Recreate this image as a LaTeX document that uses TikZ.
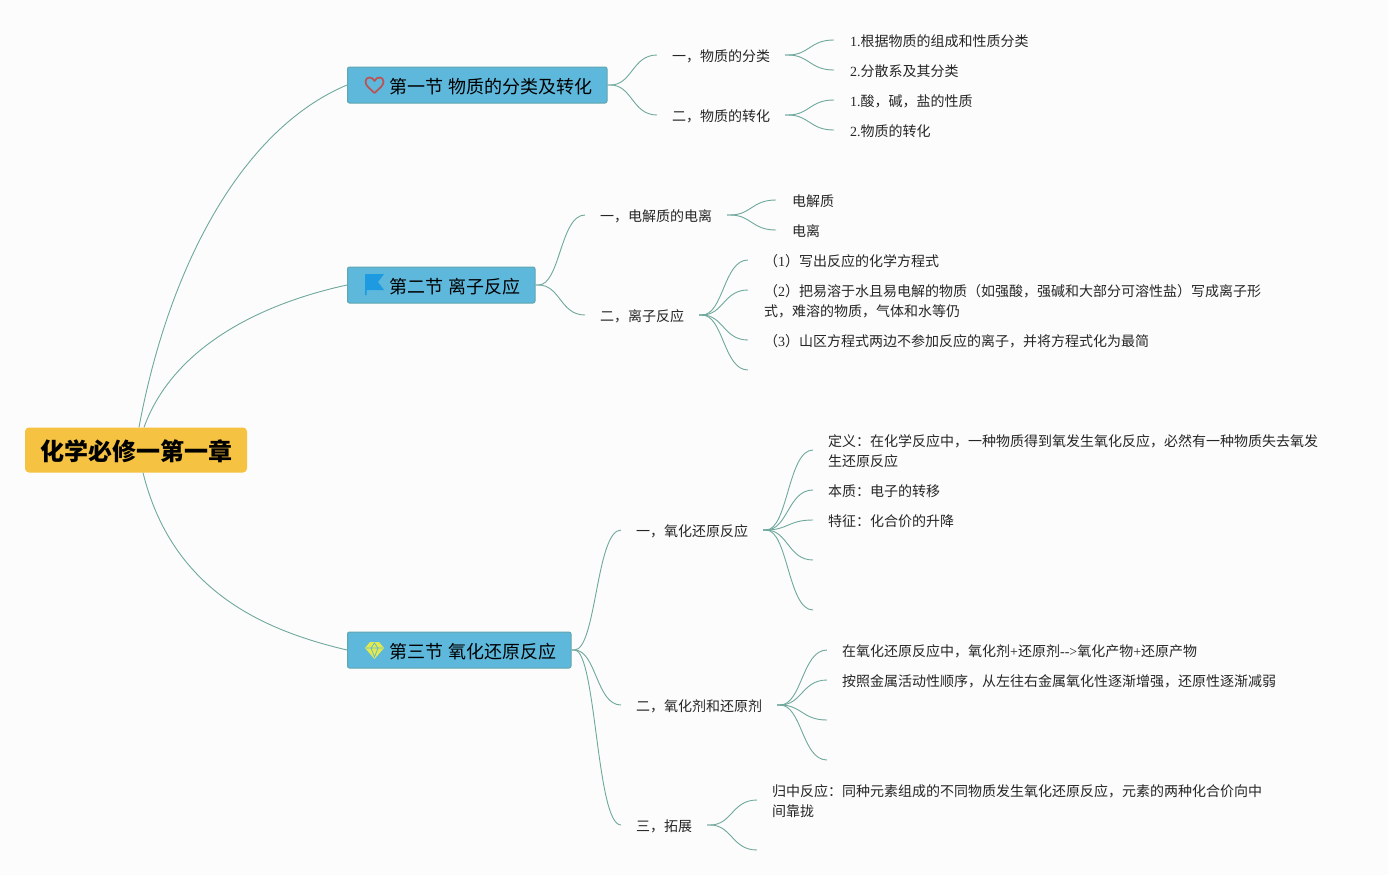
\documentclass[tikz,border=0pt]{standalone}
\usepackage{fontspec}
\setmainfont{Noto Sans CJK SC}
\newfontfamily\lat{Liberation Serif}
\usetikzlibrary{calc}
\definecolor{bgc}{HTML}{FCFCFC}
\definecolor{linec}{HTML}{6FA89C}
\definecolor{rootc}{HTML}{F5C242}
\definecolor{secc}{HTML}{5DB8DC}
\definecolor{secb}{HTML}{62A6AE}
\definecolor{txt}{HTML}{262626}
\definecolor{heartc}{HTML}{BC5353}
\definecolor{flagc}{HTML}{1E9BE0}
\definecolor{gemc}{HTML}{E4EA4C}
\newcommand{\ltn}[1]{{\lat #1}}
\tikzset{
  rootbox/.style={fill=rootc,rounded corners=4pt,minimum width=222pt,minimum height=45pt,inner sep=0pt,text height=21.6pt,text depth=0pt,font=\fontsize{24}{28}\selectfont\bfseries,text=black},
  secbox/.style={fill=secc,draw=secb,line width=1pt,rounded corners=2pt,minimum height=36pt,anchor=west,inner sep=0pt,text height=16.7pt,text depth=0pt,font=\fontsize{18}{22}\selectfont,text=black,align=left},
  lab/.style={anchor=base west,inner sep=0pt,align=left,yshift=-5.8pt,font=\fontsize{14}{20}\selectfont,text=txt},
  conn/.style={draw=linec,line width=0.9pt},
}
\newcommand{\fan}[2]{\draw[conn] let \p1=(#1),\p2=(#2) in (\p1) -- ++({(\x2-\x1)*0.06},0) .. controls ({\x1+(\x2-\x1)*0.5},\y1) and ({\x1+(\x2-\x1)*0.5},\y2) .. (\p2);}
\newcommand{\secttext}[2]{\hspace*{42pt}第#1节\hspace{5.5pt}#2}
\begin{document}
\begin{tikzpicture}[x=1pt,y=-1pt]
\useasboundingbox[fill=bgc] (0,0) rectangle (1388,875);
% root and sections
\node[rootbox] (root) at (136,450) {化学必修一第一章};
\node[secbox,minimum width=259.5pt,text width=259.5pt] (s1) at (347,85) {\secttext{一}{物质的分类及转化}};
\node[secbox,minimum width=187.5pt,text width=187.5pt] (s2) at (347,285) {\secttext{二}{离子反应}};
\node[secbox,minimum width=223.5pt,text width=223.5pt] (s3) at (347,650) {\secttext{三}{氧化还原反应}};
% root connectors
\draw[conn] ($(root.north)+(3,0)$) .. controls (168,270) and (240,130) .. (s1.west);
\draw[conn] ($(root.north)+(8,0)$) .. controls (172,350) and (255,305) .. (s2.west);
\draw[conn] ($(root.south)+(7,0)$) .. controls (172,590) and (262,630) .. (s3.west);
% icons
\draw[heartc,line width=1.7pt,line join=round] (374.5,93) .. controls (370,88.5) and (365.5,86) .. (365.5,81.5) .. controls (365.5,76.5) and (372.5,76) .. (374.5,81) .. controls (376.5,76) and (383.5,76.5) .. (383.5,81.5) .. controls (383.5,86) and (379,88.5) .. (374.5,93) -- cycle;
\fill[flagc] (365,274) -- (384,274) -- (378,282) -- (384,290) -- (366.5,290) -- (366.5,295) -- (365,295) -- cycle;
\fill[gemc] (370,642) -- (379,642) -- (384,648) -- (374.5,659) -- (365,648) -- cycle;
\draw[secc,line width=0.7pt] (366,648) -- (383,648) (371,648) -- (374.5,657) -- (378,648) (371,648) -- (374.5,643) -- (378,648);
% level 2 labels
\node[lab] (a1) at (672,56) {一，物质的分类};
\node[lab] (a2) at (672,116) {二，物质的转化};
\node[lab] (b1) at (600,216) {一，电解质的电离};
\node[lab] (b2) at (600,316) {二，离子反应};
\node[lab] (c1) at (636,531) {一，氧化还原反应};
\node[lab] (c2) at (636,706) {二，氧化剂和还原剂};
\node[lab] (c3) at (636,826) {三，拓展};
% level 3 labels
\node[lab] (a11) at (850,41) {\ltn{1.}根据物质的组成和性质分类};
\node[lab] (a12) at (850,71) {\ltn{2.}分散系及其分类};
\node[lab] (a21) at (850,101) {\ltn{1.}酸，碱，盐的性质};
\node[lab] (a22) at (850,131) {\ltn{2.}物质的转化};
\node[lab] (b11) at (792,201) {电解质};
\node[lab] (b12) at (792,231) {电离};
\node[lab] (b21) at (764,261) {（\ltn{1}）写出反应的化学方程式};
\node[lab] (b22) at (764,311) {（\ltn{2}）把易溶于水且易电解的物质（如强酸，强碱和大部分可溶性盐）写成离子形\\式，难溶的物质，气体和水等仍};
\node[lab] (b23) at (764,341) {（\ltn{3}）山区方程式两边不参加反应的离子，并将方程式化为最简};
\node[lab] (c11) at (828,461) {定义：在化学反应中，一种物质得到氧发生氧化反应，必然有一种物质失去氧发\\生还原反应};
\node[lab] (c12) at (828,491) {本质：电子的转移};
\node[lab] (c13) at (828,521) {特征：化合价的升降};
\node[lab] (c21) at (842,651) {在氧化还原反应中，氧化剂\ltn{+}还原剂\ltn{-{}->}氧化产物\ltn{+}还原产物};
\node[lab] (c22) at (842,681) {按照金属活动性顺序，从左往右金属氧化性逐渐增强，还原性逐渐减弱};
\node[lab] (c31) at (772,811) {归中反应：同种元素组成的不同物质发生氧化还原反应，元素的两种化合价向中\\间靠拢};
% connector points
\coordinate (a1i) at (657,55); \coordinate (a2i) at (657,115);
\coordinate (a1o) at (785,55); \coordinate (a2o) at (785,115);
\coordinate (a11i) at (834,40); \coordinate (a12i) at (834,70);
\coordinate (a21i) at (834,100); \coordinate (a22i) at (834,130);
\coordinate (b1i) at (585,215); \coordinate (b2i) at (585,315);
\coordinate (b1o) at (727,215); \coordinate (b2o) at (699,315);
\coordinate (b11i) at (776,200); \coordinate (b12i) at (776,230);
\coordinate (b21i) at (748,260); \coordinate (b22i) at (748,290);
\coordinate (b23i) at (748,340); \coordinate (b24i) at (748,370);
\coordinate (c1i) at (621,530); \coordinate (c2i) at (621,705); \coordinate (c3i) at (621,825);
\coordinate (c1o) at (763,530); \coordinate (c2o) at (777,705); \coordinate (c3o) at (707,825);
\coordinate (c11i) at (813,450); \coordinate (c12i) at (813,490); \coordinate (c13i) at (813,520);
\coordinate (c14i) at (813,560); \coordinate (c15i) at (813,610);
\coordinate (c21i) at (827,650); \coordinate (c22i) at (827,680);
\coordinate (c23i) at (827,720); \coordinate (c24i) at (827,760);
\coordinate (c31i) at (757,800); \coordinate (c32i) at (757,850);
% connectors
\fan{s1.east}{a1i}\fan{s1.east}{a2i}
\fan{a1o}{a11i}\fan{a1o}{a12i}\fan{a2o}{a21i}\fan{a2o}{a22i}
\fan{s2.east}{b1i}\fan{s2.east}{b2i}
\fan{b1o}{b11i}\fan{b1o}{b12i}
\fan{b2o}{b21i}\fan{b2o}{b22i}\fan{b2o}{b23i}\fan{b2o}{b24i}
\fan{s3.east}{c1i}\fan{s3.east}{c2i}\fan{s3.east}{c3i}
\fan{c1o}{c11i}\fan{c1o}{c12i}\fan{c1o}{c13i}\fan{c1o}{c14i}\fan{c1o}{c15i}
\fan{c2o}{c21i}\fan{c2o}{c22i}\fan{c2o}{c23i}\fan{c2o}{c24i}
\fan{c3o}{c31i}\fan{c3o}{c32i}
\end{tikzpicture}
\end{document}
